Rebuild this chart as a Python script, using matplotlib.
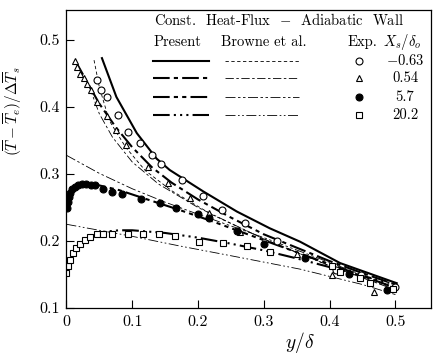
import matplotlib
matplotlib.use("Agg")
import matplotlib.pyplot as plt

plt.rcParams['font.family'] = ['cmr10', 'DejaVu Serif']
plt.rcParams['mathtext.fontset'] = 'cm'
plt.rcParams['axes.formatter.use_mathtext'] = True
plt.rcParams['axes.unicode_minus'] = False

# Present calculation (thick lines)
p1_x = [0.054, 0.076, 0.107, 0.137, 0.157, 0.208, 0.259, 0.309, 0.355, 0.416, 0.502]
p1_y = [0.473, 0.415, 0.361, 0.323, 0.306, 0.274, 0.244, 0.219, 0.199, 0.167, 0.137]
p2_x = [0.013, 0.03, 0.05, 0.075, 0.1, 0.13, 0.16, 0.2, 0.25, 0.3, 0.35, 0.4, 0.45, 0.5]
p2_y = [0.47, 0.44, 0.405, 0.37, 0.34, 0.31, 0.287, 0.262, 0.235, 0.21, 0.19, 0.17, 0.152, 0.135]
p3_x = [0, 0.003, 0.01, 0.02, 0.03, 0.05, 0.08, 0.12, 0.17, 0.22, 0.27, 0.32, 0.37, 0.43, 0.5]
p3_y = [0.25, 0.265, 0.278, 0.284, 0.285, 0.283, 0.276, 0.263, 0.247, 0.23, 0.212, 0.194, 0.176, 0.155, 0.13]
p4_x = [0, 0.005, 0.01, 0.02, 0.03, 0.045, 0.06, 0.08, 0.1, 0.15, 0.2, 0.25, 0.3, 0.35, 0.4, 0.45, 0.5]
p4_y = [0.15, 0.17, 0.18, 0.194, 0.203, 0.21, 0.214, 0.216, 0.216, 0.212, 0.205, 0.196, 0.186, 0.174, 0.161, 0.148, 0.135]

# Browne et al. (thin lines)
b1_x = [0.042, 0.05, 0.065, 0.09, 0.12, 0.16, 0.22, 0.3, 0.4, 0.5]
b1_y = [0.47, 0.43, 0.38, 0.34, 0.305, 0.275, 0.24, 0.203, 0.163, 0.128]
b2_x = [0.035, 0.05, 0.07, 0.1, 0.14, 0.2, 0.3, 0.4, 0.5]
b2_y = [0.43, 0.39, 0.355, 0.318, 0.285, 0.25, 0.203, 0.163, 0.127]
b3_x = [0, 0.05, 0.1, 0.15, 0.2, 0.3, 0.4, 0.5]
b3_y = [0.328, 0.301, 0.278, 0.258, 0.24, 0.205, 0.168, 0.13]
b4_x = [0, 0.1, 0.17, 0.25, 0.355, 0.45, 0.5]
b4_y = [0.225, 0.207, 0.193, 0.178, 0.158, 0.135, 0.12]

# experiment
circ_x = [0.046, 0.053, 0.061, 0.079, 0.094, 0.112, 0.13, 0.144, 0.175, 0.207, 0.237, 0.271, 0.32, 0.409, 0.447, 0.5]
circ_y = [0.44, 0.425, 0.415, 0.388, 0.363, 0.346, 0.328, 0.315, 0.291, 0.267, 0.246, 0.227, 0.2, 0.157, 0.149, 0.132]
tri_x = [0.013, 0.016, 0.021, 0.026, 0.031, 0.038, 0.046, 0.061, 0.076, 0.091, 0.124, 0.155, 0.188, 0.217, 0.264, 0.35, 0.404, 0.467]
tri_y = [0.468, 0.46, 0.45, 0.443, 0.435, 0.425, 0.408, 0.386, 0.366, 0.343, 0.311, 0.287, 0.264, 0.242, 0.214, 0.18, 0.149, 0.124]
dot_x = [0.001, 0.002, 0.004, 0.006, 0.009, 0.013, 0.018, 0.024, 0.03, 0.037, 0.044, 0.056, 0.07, 0.085,
         0.114, 0.142, 0.167, 0.2, 0.216, 0.26, 0.3, 0.362, 0.429, 0.487]
dot_y = [0.25, 0.258, 0.265, 0.272, 0.277, 0.281, 0.284, 0.285, 0.285, 0.284, 0.283, 0.277, 0.273, 0.27,
         0.263, 0.256, 0.249, 0.24, 0.234, 0.215, 0.195, 0.175, 0.15, 0.127]
sq_x = [0.0, 0.003, 0.005, 0.01, 0.015, 0.02, 0.028, 0.036, 0.046, 0.056, 0.069, 0.094, 0.117, 0.141,
        0.165, 0.201, 0.238, 0.274, 0.31, 0.404, 0.416, 0.446, 0.461, 0.497]
sq_y = [0.152, 0.162, 0.172, 0.182, 0.189, 0.196, 0.201, 0.206, 0.21, 0.21, 0.21, 0.21, 0.21, 0.21,
        0.207, 0.199, 0.197, 0.192, 0.184, 0.162, 0.154, 0.145, 0.137, 0.129]

xs_labels = [r'$-0.63$', '0.54', '5.7', '20.2']

present_styles = ['-', (0, (8, 2, 2, 2)), (0, (8, 2, 2, 2, 2, 2)), (0, (8, 2, 1, 2, 1, 2, 1, 2))]
browne_styles = [(0, (4, 3)), (0, (10, 3, 3, 3)), (0, (12, 3, 3, 3, 3, 3)), (0, (12, 3, 2, 3, 2, 3))]
marker_kw = [dict(marker='o', mfc='white'), dict(marker='^', mfc='white'),
             dict(marker='o', mfc='black'), dict(marker='s', mfc='white')]

fig = plt.figure(figsize=(4.34, 3.54), dpi=100)
ax = fig.add_axes([0.153, 0.130, 0.840, 0.842])

for (bx, by), ls in zip([(b1_x, b1_y), (b2_x, b2_y), (b3_x, b3_y), (b4_x, b4_y)], browne_styles):
    ax.plot(bx, by, color='black', lw=0.6, ls=ls)

for (px, py), ls in zip([(p1_x, p1_y), (p2_x, p2_y), (p3_x, p3_y), (p4_x, p4_y)], present_styles):
    ax.plot(px, py, color='black', lw=1.5, ls=ls)

for (ex, ey), mk in zip([(circ_x, circ_y), (tri_x, tri_y), (dot_x, dot_y), (sq_x, sq_y)], marker_kw):
    ax.plot(ex, ey, ls='none', ms=5, mec='black', mew=0.8, **mk)

ax.set_xlim(0, 0.554)
ax.set_ylim(0.1, 0.545)
ax.set_xticks([0, 0.1, 0.2, 0.3, 0.4, 0.5])
ax.set_xticklabels(['0', '0.1', '0.2', '0.3', '0.4', '0.5'])
ax.set_yticks([0.1, 0.2, 0.3, 0.4, 0.5])
ax.set_yticklabels(['0.1', '0.2', '0.3', '0.4', '0.5'])
ax.tick_params(direction='in', length=6, width=0.8, labelsize=11.5, pad=5)
for s in ax.spines.values():
    s.set_linewidth(0.9)

ax.set_xlabel(r'$y/\delta$', fontsize=14)
ax.xaxis.set_label_coords(0.64, -0.075)
ax.set_ylabel(r'$(\overline{T}-\overline{T}_e)/\Delta\overline{T}_s$', fontsize=11)
ax.yaxis.set_label_coords(-0.115, 0.66)

# legend table
tr = ax.transAxes
fs = 10.5
ax.text(0.240, 0.966, 'Const.  Heat-Flux  $-$  Adiabatic  Wall', transform=tr, fontsize=fs, va='center')
ax.text(0.240, 0.893, 'Present', transform=tr, fontsize=fs, va='center')
ax.text(0.424, 0.893, 'Browne et al.', transform=tr, fontsize=fs, va='center')
ax.text(0.770, 0.893, 'Exp.', transform=tr, fontsize=fs, va='center')
ax.text(0.920, 0.893, r'$X_s/\delta_o$', transform=tr, fontsize=fs, va='center', ha='center')
rows = [0.829, 0.772, 0.708, 0.648]
for i, yy in enumerate(rows):
    ax.plot([0.237, 0.391], [yy, yy], transform=tr, color='black', lw=1.5, ls=present_styles[i])
    ax.plot([0.435, 0.638], [yy, yy], transform=tr, color='black', lw=0.6, ls=browne_styles[i])
    ax.plot([0.802], [yy], transform=tr, ls='none', ms=5, mec='black', mew=0.8, **marker_kw[i])
    ax.text(0.929, yy, xs_labels[i], transform=tr, fontsize=fs, va='center', ha='center')

fig.savefig('out.png', dpi=100)
